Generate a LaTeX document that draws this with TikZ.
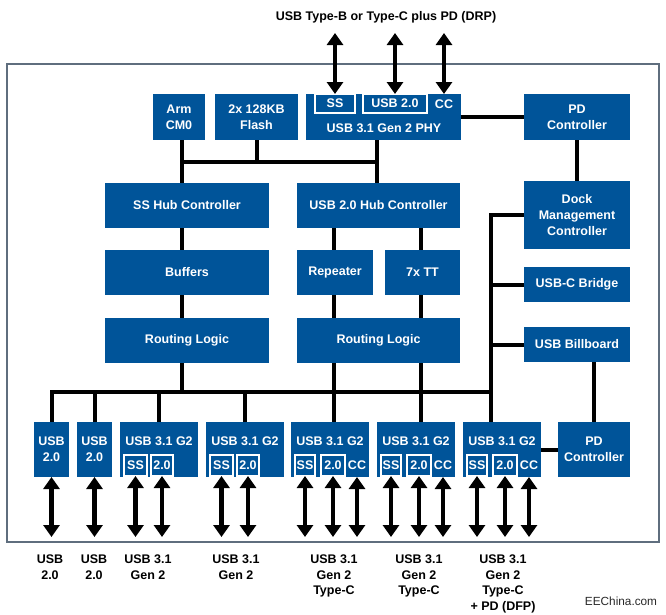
\documentclass[tikz,border=0pt]{standalone}
\usepackage{fontspec}
\setmainfont{Liberation Sans}
\newfontfamily\plainfont{Liberation Sans}
\usetikzlibrary{arrows.meta}
\definecolor{boxblue}{RGB}{0,84,153}
\definecolor{framegray}{RGB}{95,110,126}
\newcommand{\blkbox}[7][box]{\node[#1, minimum width={(#5)-(#3)}, minimum height={(#6)-(#4)}] (#2) at ({((#3)+(#5))/2},{((#4)+(#6))/2}) {#7};}
\begin{document}
\begin{tikzpicture}[x=1pt,y=-1pt,
  txt/.style={font=\bfseries\fontsize{12.5}{15.7}\selectfont},
  box/.style={txt, fill=boxblue, draw=none, inner sep=0pt, outer sep=0pt, text=white, align=center},
  sub/.style={txt, fill=boxblue, draw=white, line width=1.2pt, inner sep=0pt, outer sep=0pt, text=white},
  wire/.style={line width=4pt, draw=black},
  bus/.style={wire, line cap=rect},
  dbl/.style={line width=4.5pt, {Triangle[width=16pt,length=12pt]}-{Triangle[width=16pt,length=12pt]}},
  lbl/.style={txt, text=black, align=center, inner sep=0pt},
  wtext/.style={txt, text=white, inner sep=0pt},
]
\useasboundingbox (0,0) rectangle (666,614);
% outer frame
\draw[framegray, line width=2pt] (6.7,63.5) rectangle (659,542);

% reference coordinates
\coordinate (xa) at (182,0);
\coordinate (xp) at (377,0);
\coordinate (xq) at (334,0);
\coordinate (xt) at (421,0);
\coordinate (xr) at (491,0);
\coordinate (tbus) at (0,162);
\coordinate (bbus) at (0,392);
\coordinate (tend) at (0,33);
\coordinate (bend) at (0,537);

% top row
\blkbox{arm}{153}{94}{205}{140}{Arm\\CM0}
\blkbox{flash}{215}{94}{298}{140}{2x 128KB\\Flash}
\blkbox{phy}{306}{94}{461}{140}{}
\blkbox[sub]{physs}{315}{94}{355}{113}{SS}
\blkbox[sub]{phyu2}{363}{94}{427}{113}{USB 2.0}
\node[wtext] (phycc) at (444,104) {CC};
\node[wtext] (phyt) at (384,128) {USB 3.1 Gen 2 PHY};
\blkbox{pdt}{524}{94}{630}{140}{PD\\Controller}

% middle
\blkbox{ssh}{105}{183}{269}{228}{SS Hub Controller}
\blkbox{u2h}{297}{183}{460}{228}{USB 2.0 Hub Controller}
\blkbox{buf}{105}{250}{269}{295}{Buffers}
\blkbox{rep}{297}{250}{373}{295}{Repeater}
\blkbox{tt}{385}{250}{460}{295}{7x TT}
\blkbox{rl}{105}{318}{269}{363}{Routing Logic}
\blkbox{rr}{297}{318}{460}{363}{Routing Logic}
\blkbox{dock}{524}{181}{630}{249}{Dock\\Management\\Controller}
\blkbox{bridge}{524}{267}{630}{302}{USB-C Bridge}
\blkbox{bill}{524}{327}{630}{362}{USB Billboard}

% bottom row
\blkbox{b1}{34}{422}{69}{477}{USB\\2.0}
\blkbox{b2}{77}{422}{112}{477}{USB\\2.0}
\blkbox{b3}{120}{422}{198}{477}{}
\blkbox{b4}{206}{422}{284}{477}{}
\blkbox{b5}{291}{422}{369}{477}{}
\blkbox{b6}{377}{422}{455}{477}{}
\blkbox{b7}{463}{422}{541}{477}{}
\blkbox{pdb}{558}{422}{630}{477}{PD\\Controller}

\foreach \b/\l in {b3/120,b4/206}{
  \node[wtext] (\b t) at (\l+39,441) {USB 3.1 G2};
  \blkbox[sub]{\b ss}{\l+4}{455}{\l+27}{476}{SS}
  \blkbox[sub]{\b u}{\l+31}{455}{\l+53}{476}{2.0}
}
\foreach \b/\l in {b5/291,b6/377,b7/463}{
  \node[wtext] (\b t) at (\l+39,441) {USB 3.1 G2};
  \blkbox[sub]{\b ss}{\l+4}{455}{\l+24}{476}{SS}
  \blkbox[sub]{\b u}{\l+30}{455}{\l+54}{476}{2.0}
  \node[wtext] (\b cc) at (\l+66,465) {CC};
}

% connectors
\draw[wire] (arm.south -| xa) -- (ssh.north -| xa);
\draw[bus] (tbus -| xa) -- (tbus -| xp);
\draw[wire] (flash.south) -- (flash.south |- tbus);
\draw[wire] (phy.south -| xp) -- (u2h.north -| xp);
\draw[wire] (phy.east) -- (pdt.west);
\draw[wire] (pdt.south) -- (dock.north);
\draw[wire] (ssh.south -| xa) -- (buf.north -| xa);
\draw[wire] (buf.south -| xa) -- (rl.north -| xa);
\draw[wire] (rl.south -| xa) -- (bbus -| xa);
\draw[wire] (u2h.south -| xq) -- (rep.north -| xq);
\draw[wire] (u2h.south -| xt) -- (tt.north -| xt);
\draw[wire] (rep.south -| xq) -- (rr.north -| xq);
\draw[wire] (tt.south -| xt) -- (rr.north -| xt);
\draw[wire] (rr.south -| xq) -- (b5.north -| xq);
\draw[wire] (rr.south -| xt) -- (b6.north -| xt);
\draw[bus] (bbus -| b1.north) -- (bbus -| xr);
\draw[wire] (b1.north) -- (b1.north |- bbus);
\draw[wire] (b2.north) -- (b2.north |- bbus);
\draw[wire] (b3.north) -- (b3.north |- bbus);
\draw[wire] (b4.north) -- (b4.north |- bbus);
\draw[wire] (dock.west) -| (b7.north -| xr);
\draw[wire] (bridge.west) -- (bridge.west -| xr);
\draw[wire] (bill.west) -- (bill.west -| xr);
\draw[wire] (bill.south -| pdb.north) -- (pdb.north);
\draw[wire] (b7.east) -- (pdb.west);

% top arrows
\draw[dbl] (physs.north) -- (physs.north |- tend);
\draw[dbl] (phyu2.north) -- (phyu2.north |- tend);
\draw[dbl] (phycc |- phy.north) -- (phycc |- tend);

% bottom arrows
\draw[dbl] (b1.south) -- (b1.south |- bend);
\draw[dbl] (b2.south) -- (b2.south |- bend);
\foreach \b in {b3,b4,b5,b6,b7}{
  \draw[dbl] (\b ss.south) -- (\b ss.south |- bend);
  \draw[dbl] (\b u.south) -- (\b u.south |- bend);
}
\foreach \b in {b5,b6,b7}{
  \draw[dbl] (\b cc |- \b.south) -- (\b cc |- bend);
}

% labels
\node[lbl, anchor=base] (top) at (386,20) {USB Type-B or Type-C plus PD (DRP)};
\node[lbl, anchor=north] (l1) at (50,554.5) {USB\\2.0};
\node[lbl, anchor=north] (l2) at (94,554.5) {USB\\2.0};
\node[lbl, anchor=north] (l3) at (148,554.5) {USB 3.1\\Gen 2};
\node[lbl, anchor=north] (l4) at (236,554.5) {USB 3.1\\Gen 2};
\node[lbl, anchor=north] (l5) at (334,554.5) {USB 3.1\\Gen 2\\Type-C};
\node[lbl, anchor=north] (l6) at (419,554.5) {USB 3.1\\Gen 2\\Type-C};
\node[lbl, anchor=north] (l7) at (503,554.5) {USB 3.1\\Gen 2\\Type-C\\+ PD (DFP)};
\node[inner sep=0pt, anchor=base, text={rgb,255:red,40;green,40;blue,40}, font=\plainfont\fontsize{11.8}{14}\selectfont] (wm) at (621,605.5) {EEChina.com};
\end{tikzpicture}
\end{document}
